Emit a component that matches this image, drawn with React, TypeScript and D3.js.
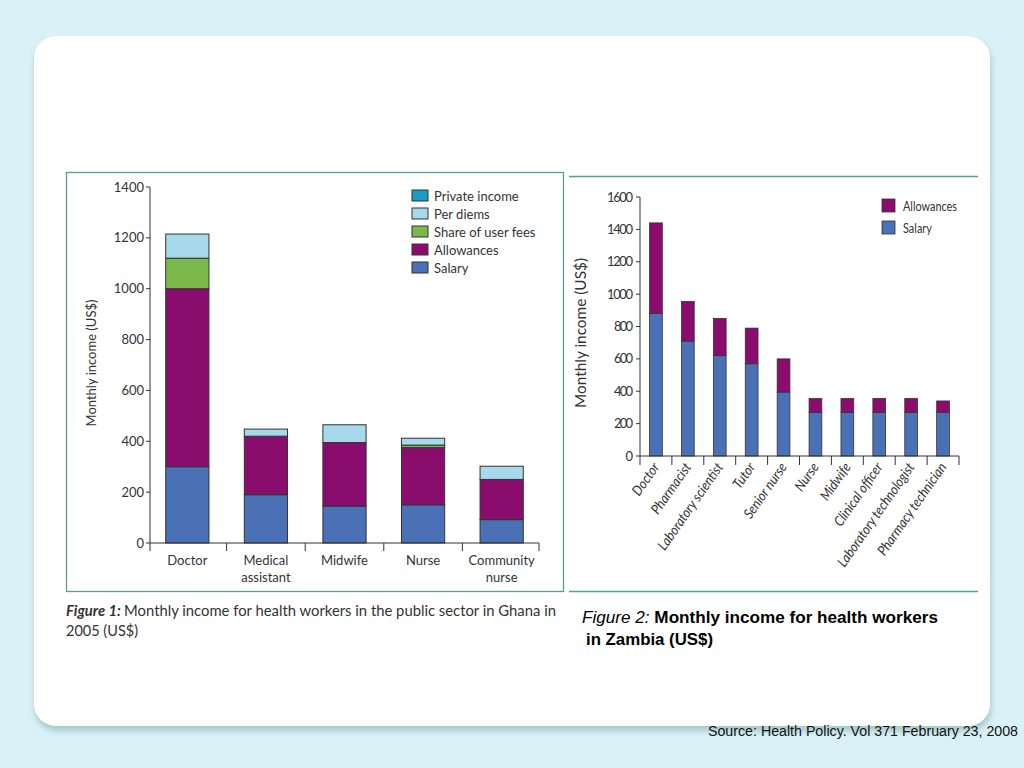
import React, { useEffect, useRef } from "react";
import * as d3 from "d3";

// Ghana (figure 1)
const ghanaCategories = ["Doctor", "Medical|assistant", "Midwife", "Nurse", "Community|nurse"];
const ghanaSeries = ["Salary", "Allowances", "Share of user fees", "Per diems", "Private income"];
const ghanaSalary = [300, 190, 145, 150, 92];
const ghanaAllowances = [700, 230, 250, 225, 158];
const ghanaUserFees = [120, 0, 0, 10, 0];
const ghanaPerDiems = [95, 28, 70, 27, 52];
const ghanaPrivate = [0, 0, 0, 0, 0];
const ghanaTicks = [0, 200, 400, 600, 800, 1000, 1200, 1400];

// Zambia (figure 2)
const zambiaCategories = [
  "Doctor",
  "Pharmacist",
  "Laboratory scientist",
  "Tutor",
  "Senior nurse",
  "Nurse",
  "Midwife",
  "Clinical officer",
  "Laboratory technologist",
  "Pharmacy technician",
];
const zambiaSeries = ["Salary", "Allowances"];
const zambiaSalary = [880, 710, 620, 570, 395, 270, 270, 270, 270, 270];
const zambiaAllowances = [560, 245, 230, 220, 205, 85, 85, 85, 85, 70];
const zambiaTicks = [0, 200, 400, 600, 800, 1000, 1200, 1400, 1600];

const colors: Record<string, string> = {
  Salary: "#4a70b5",
  Allowances: "#8a0c6c",
  "Share of user fees": "#7cb84a",
  "Per diems": "#a7d9ea",
  "Private income": "#1a9cc4",
};

const FONT = "Lato, 'Open Sans', sans-serif";
const ARIAL = "'Liberation Sans', Arial, sans-serif";
const TEAL = "#5a9e8c";

export default function App() {
  const ref = useRef<SVGSVGElement>(null);

  useEffect(() => {
    if (!ref.current) return;
    const svg = d3.select(ref.current);
    svg.selectAll("*").remove();

    // background + panel
    const defs = svg.append("defs");
    const f = defs.append("filter").attr("id", "sh").attr("x", "-5%").attr("y", "-5%").attr("width", "110%").attr("height", "115%");
    f.append("feDropShadow").attr("dx", 1).attr("dy", 5).attr("stdDeviation", 3).attr("flood-color", "#8aa").attr("flood-opacity", 0.6);

    svg.append("rect").attr("width", 1024).attr("height", 768).attr("fill", "#d8f2f7");
    svg.append("rect").attr("x", 34).attr("y", 36).attr("width", 956).attr("height", 690).attr("rx", 22)
      .attr("fill", "#ffffff").attr("filter", "url(#sh)");

    // ---------- Figure 1 ----------
    svg.append("rect").attr("x", 66.5).attr("y", 172.5).attr("width", 497).attr("height", 419)
      .attr("fill", "none").attr("stroke", TEAL).attr("stroke-width", 1.3);

    const g1 = svg.append("g");
    const x1 = d3.scaleBand().domain(ghanaCategories).range([150, 539]).paddingInner(0.45).paddingOuter(0.2);
    const y1 = d3.scaleLinear().domain([0, 1400]).range([543, 187]);

    const ghanaData = ghanaCategories.map((c, i) => ({
      cat: c,
      Salary: ghanaSalary[i],
      Allowances: ghanaAllowances[i],
      "Share of user fees": ghanaUserFees[i],
      "Per diems": ghanaPerDiems[i],
      "Private income": ghanaPrivate[i],
    }));
    const stack1 = d3.stack<any>().keys(ghanaSeries)(ghanaData);
    stack1.forEach((layer) => {
      g1.append("g").selectAll("rect").data(layer.filter((d) => d[1] - d[0] > 0)).enter().append("rect")
        .attr("x", (d: any) => x1(d.data.cat) as number)
        .attr("width", x1.bandwidth())
        .attr("y", (d: any) => y1(d[1]))
        .attr("height", (d: any) => y1(d[0]) - y1(d[1]))
        .attr("fill", colors[layer.key])
        .attr("stroke", "#333")
        .attr("stroke-width", 1);
    });

    // axes
    const ax1 = g1.append("g").attr("font-family", FONT).attr("font-size", 13).attr("fill", "#333");
    ax1.append("line").attr("x1", 150).attr("x2", 150).attr("y1", y1(1400)).attr("y2", y1(0)).attr("stroke", "#333");
    ax1.append("line").attr("x1", 150).attr("x2", 539).attr("y1", y1(0)).attr("y2", y1(0)).attr("stroke", "#333");
    ghanaTicks.forEach((t) => {
      ax1.append("line").attr("x1", 146).attr("x2", 150).attr("y1", y1(t)).attr("y2", y1(t)).attr("stroke", "#333");
      ax1.append("text").attr("x", 144).attr("y", y1(t)).attr("dy", "0.35em").attr("text-anchor", "end").text(t);
    });
    const bounds1 = [150, ...ghanaCategories.map((c) => (x1(c) as number) + x1.bandwidth() + x1.step() * 0.225)];
    bounds1.forEach((b, i) => {
      const xb = i === bounds1.length - 1 ? 539 : b;
      ax1.append("line").attr("x1", xb).attr("x2", xb).attr("y1", y1(0)).attr("y2", y1(0) + 8).attr("stroke", "#333");
    });
    ghanaCategories.forEach((c) => {
      const cx = (x1(c) as number) + x1.bandwidth() / 2;
      c.split("|").forEach((line, k) => {
        ax1.append("text").attr("x", cx).attr("y", 565 + k * 17).attr("text-anchor", "middle").text(line);
      });
    });
    ax1.append("text").attr("transform", "translate(96,363) rotate(-90)").attr("text-anchor", "middle")
      .text("Monthly income (US$)");

    // legend
    const lg1 = g1.append("g").attr("font-family", FONT).attr("font-size", 13).attr("fill", "#333");
    [...ghanaSeries].reverse().forEach((s, i) => {
      const yy = 190 + i * 18;
      lg1.append("rect").attr("x", 412).attr("y", yy).attr("width", 16).attr("height", 11)
        .attr("fill", colors[s]).attr("stroke", "#333").attr("stroke-width", 1);
      lg1.append("text").attr("x", 434).attr("y", yy + 6).attr("dy", "0.35em").text(s);
    });

    // ---------- Figure 2 ----------
    svg.append("line").attr("x1", 569).attr("x2", 978).attr("y1", 176.5).attr("y2", 176.5).attr("stroke", TEAL).attr("stroke-width", 1.3);
    svg.append("line").attr("x1", 569).attr("x2", 978).attr("y1", 591.5).attr("y2", 591.5).attr("stroke", TEAL).attr("stroke-width", 1.3);

    const g2 = svg.append("g");
    const x2 = d3.scaleBand().domain(zambiaCategories).range([640, 959]).paddingInner(0.6).paddingOuter(0.3);
    const y2 = d3.scaleLinear().domain([0, 1600]).range([456, 197]);
    const zambiaData = zambiaCategories.map((c, i) => ({ cat: c, Salary: zambiaSalary[i], Allowances: zambiaAllowances[i] }));
    const stack2 = d3.stack<any>().keys(zambiaSeries)(zambiaData);
    stack2.forEach((layer) => {
      g2.append("g").selectAll("rect").data(layer).enter().append("rect")
        .attr("x", (d: any) => x2(d.data.cat) as number)
        .attr("width", x2.bandwidth())
        .attr("y", (d: any) => y2(d[1]))
        .attr("height", (d: any) => y2(d[0]) - y2(d[1]))
        .attr("fill", colors[layer.key])
        .attr("stroke", "#333")
        .attr("stroke-width", 0.8);
    });

    const ax2 = g2.append("g").attr("font-family", FONT).attr("font-size", 13).attr("fill", "#333");
    ax2.append("line").attr("x1", 640).attr("x2", 640).attr("y1", y2(1600)).attr("y2", y2(0)).attr("stroke", "#333");
    ax2.append("line").attr("x1", 640).attr("x2", 959).attr("y1", y2(0)).attr("y2", y2(0)).attr("stroke", "#333");
    zambiaTicks.forEach((t) => {
      ax2.append("line").attr("x1", 636).attr("x2", 640).attr("y1", y2(t)).attr("y2", y2(t)).attr("stroke", "#333");
      ax2.append("text").attr("x", 633).attr("y", y2(t)).attr("dy", "0.35em").attr("text-anchor", "end")
        .attr("textLength", t >= 1000 ? 26 : t === 0 ? 6 : 19).text(t);
    });
    const step2 = (959 - 640) / zambiaCategories.length;
    d3.range(zambiaCategories.length + 1).forEach((i) => {
      const xb = 640 + i * step2;
      ax2.append("line").attr("x1", xb).attr("x2", xb).attr("y1", y2(0)).attr("y2", y2(0) + 9).attr("stroke", "#333");
    });
    zambiaCategories.forEach((c) => {
      const cx = (x2(c) as number) + x2.bandwidth() / 2 + 4;
      const txt = ax2.append("text").attr("transform", `translate(${cx},${y2(0) + 11}) rotate(-55)`)
        .attr("text-anchor", "end").attr("font-style", "italic").attr("font-size", 14).text(c);
      const len = (txt.node() as SVGTextElement).getComputedTextLength();
      txt.attr("textLength", len * 0.9).attr("lengthAdjust", "spacingAndGlyphs");
    });
    ax2.append("text").attr("transform", "translate(586,333) rotate(-90)").attr("text-anchor", "middle")
      .attr("font-size", 14.5).attr("textLength", 150).attr("lengthAdjust", "spacingAndGlyphs").text("Monthly income (US$)");

    const lg2 = g2.append("g").attr("font-family", FONT).attr("font-size", 13.5).attr("fill", "#333");
    [...zambiaSeries].reverse().forEach((s, i) => {
      const yy = 199 + i * 22;
      lg2.append("rect").attr("x", 882).attr("y", yy).attr("width", 13).attr("height", 13)
        .attr("fill", colors[s]).attr("stroke", "#333").attr("stroke-width", 0.8);
      lg2.append("text").attr("x", 903).attr("y", yy + 7).attr("dy", "0.35em")
        .attr("textLength", s === "Allowances" ? 54 : 29).attr("lengthAdjust", "spacingAndGlyphs").text(s);
    });

    // ---------- captions ----------
    const c1 = svg.append("text").attr("x", 66).attr("y", 616).attr("font-family", FONT).attr("font-size", 14.5)
      .attr("fill", "#333").attr("textLength", 490).attr("lengthAdjust", "spacingAndGlyphs");
    c1.append("tspan").attr("font-style", "italic").attr("font-weight", 700).text("Figure 1: ");
    c1.append("tspan").text("Monthly income for health workers in the public sector in Ghana in");
    svg.append("text").attr("x", 66).attr("y", 636).attr("font-family", FONT).attr("font-size", 14.5)
      .attr("fill", "#333").text("2005 (US$)");

    const c2 = svg.append("text").attr("x", 582).attr("y", 623).attr("font-family", ARIAL)
      .attr("font-size", 16).attr("fill", "#000").attr("font-weight", 700)
      .attr("textLength", 356).attr("lengthAdjust", "spacingAndGlyphs");
    c2.append("tspan").attr("font-style", "italic").attr("font-weight", 400).text("Figure 2: ");
    c2.append("tspan").text("Monthly income for health workers");
    svg.append("text").attr("x", 586).attr("y", 645).attr("font-family", ARIAL)
      .attr("font-size", 16).attr("fill", "#000").attr("font-weight", 700)
      .attr("textLength", 127).attr("lengthAdjust", "spacingAndGlyphs").text("in Zambia (US$)");

    svg.append("text").attr("x", 1018).attr("y", 736).attr("text-anchor", "end")
      .attr("font-family", ARIAL).attr("font-size", 14).attr("fill", "#111")
      .attr("textLength", 310).attr("lengthAdjust", "spacingAndGlyphs")
      .text("Source: Health Policy. Vol 371 February 23, 2008");
  }, []);

  return (
    <div style={{ position: "absolute", left: 0, top: 0 }}>
      <svg ref={ref} width={1024} height={768} style={{ display: "block" }} />
    </div>
  );
}
